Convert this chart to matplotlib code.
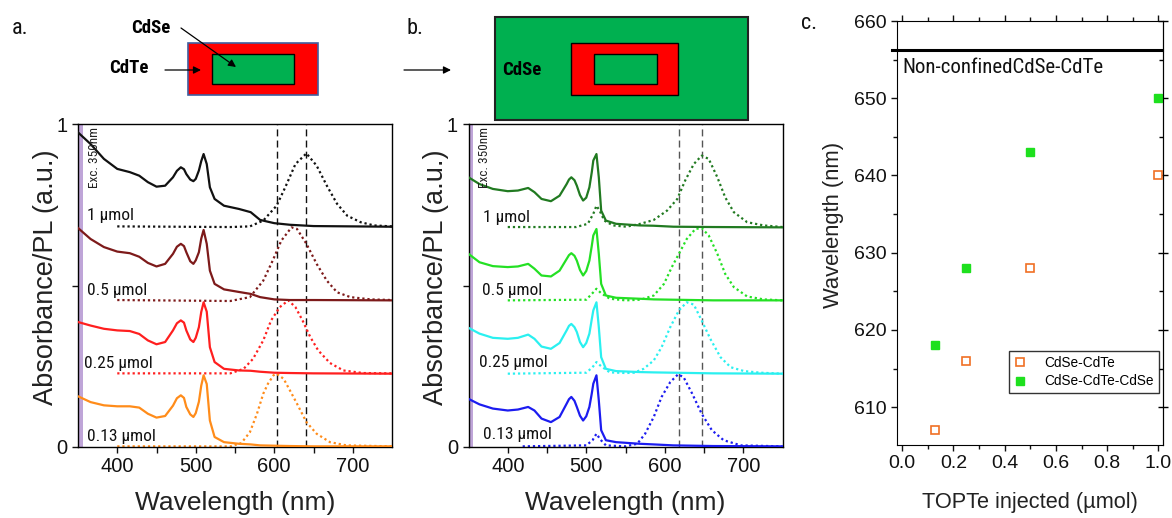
import matplotlib
matplotlib.use('Agg')
import matplotlib.pyplot as plt
from matplotlib import font_manager as fm
from matplotlib.patches import Rectangle
from matplotlib.ticker import MultipleLocator, FixedLocator, FormatStrFormatter

plt.rcParams['font.family'] = ['Liberation Sans', 'DejaVu Sans']

# pick a condensed face for the small annotations if one is installed
_entries = fm.fontManager.ttflist


def _has(name, stretch):
    for f in _entries:
        if f.name == name and (stretch is None or str(f.stretch) in stretch):
            return True
    return False


NARROW_FAMILY, NARROW_STRETCH, NS = 'Liberation Sans', 'normal', 0.86
for _name, _st, _scale in [('Liberation Sans Narrow', None, 1.0),
                           ('Roboto Condensed', None, 1.0),
                           ('Open Sans Condensed', None, 1.0),
                           ('DejaVu Sans', ('condensed', 'semi-condensed', '75', '87.5'), 0.95),
                           ('Noto Sans', ('condensed', 'semi-condensed', 'extra-condensed'), 1.0)]:
    if _has(_name, _st):
        NARROW_FAMILY = _name
        NARROW_STRETCH = 'condensed' if _st else 'normal'
        NS = _scale
        break


def narrow(size, **kw):
    return dict(family=[NARROW_FAMILY, 'DejaVu Sans'], stretch=NARROW_STRETCH, fontsize=size * NS, **kw)


# ---------------- data: panel a (CdSe-CdTe) ----------------
WL_ABS_A = [350, 366, 383, 400, 416, 428, 439, 450, 461, 471, 476, 481, 485, 488, 493, 497, 500, 504,
            507, 510, 514, 518, 524, 536, 555, 570, 582, 600, 620, 650, 750]
ABS_A_1 = [0.974, 0.938, 0.892, 0.861, 0.851, 0.840, 0.820, 0.806, 0.809, 0.835, 0.855, 0.866, 0.860, 0.845,
           0.828, 0.823, 0.830, 0.856, 0.885, 0.907, 0.876, 0.804, 0.768, 0.747, 0.737, 0.727, 0.703, 0.693,
           0.688, 0.684, 0.682]
ABS_A_05 = [0.678, 0.644, 0.619, 0.605, 0.600, 0.589, 0.570, 0.559, 0.567, 0.598, 0.620, 0.629, 0.622, 0.603,
            0.575, 0.567, 0.578, 0.603, 0.645, 0.672, 0.629, 0.546, 0.505, 0.488, 0.480, 0.474, 0.464, 0.457,
            0.455, 0.455, 0.454]
ABS_A_025 = [0.387, 0.376, 0.366, 0.361, 0.359, 0.350, 0.330, 0.318, 0.325, 0.361, 0.383, 0.392, 0.385, 0.361,
             0.333, 0.325, 0.338, 0.371, 0.418, 0.448, 0.419, 0.309, 0.263, 0.242, 0.237, 0.236, 0.233, 0.230,
             0.229, 0.228, 0.227]
ABS_A_013 = [0.157, 0.139, 0.129, 0.126, 0.126, 0.122, 0.103, 0.091, 0.096, 0.128, 0.151, 0.160, 0.152, 0.124,
             0.101, 0.093, 0.105, 0.140, 0.190, 0.222, 0.195, 0.082, 0.031, 0.015, 0.010, 0.008, 0.005, 0.004,
             0.003, 0.002, 0.002]

PL_A_1_WL = [400, 544, 569, 586, 603, 614, 627, 641, 654, 667, 680, 693, 710, 727, 750]
PL_A_1 = [0.683, 0.681, 0.683, 0.701, 0.747, 0.804, 0.876, 0.909, 0.871, 0.809, 0.753, 0.716, 0.696, 0.686, 0.683]
PL_A_05_WL = [400, 544, 569, 586, 598, 609, 622, 629, 641, 654, 667, 680, 697, 723, 750]
PL_A_05 = [0.455, 0.452, 0.464, 0.515, 0.577, 0.639, 0.680, 0.675, 0.629, 0.567, 0.515, 0.479, 0.464, 0.457, 0.455]
PL_A_025_WL = [400, 544, 561, 573, 586, 596, 607, 618, 627, 636, 646, 656, 671, 688, 713, 750]
PL_A_025 = [0.228, 0.228, 0.242, 0.273, 0.330, 0.392, 0.433, 0.454, 0.433, 0.392, 0.340, 0.299, 0.260, 0.237, 0.229, 0.228]
PL_A_013_WL = [400, 544, 558, 569, 578, 586, 592, 599, 603, 612, 620, 629, 641, 654, 671, 692, 750]
PL_A_013 = [0.002, 0.002, 0.012, 0.046, 0.103, 0.165, 0.196, 0.222, 0.227, 0.211, 0.175, 0.134, 0.077, 0.041,
            0.015, 0.005, 0.002]
DASH_A = [603, 641]

# ---------------- data: panel b (CdSe-CdTe-CdSe) ----------------
WL_ABS_B = [350, 364, 381, 400, 413, 426, 434, 443, 455, 466, 475, 478, 481, 485, 488, 492, 496, 500,
            504, 507, 509, 513, 516, 519, 525, 538, 568, 586, 611, 662, 750]
ABS_B_1 = [0.835, 0.814, 0.799, 0.792, 0.794, 0.802, 0.789, 0.768, 0.761, 0.778, 0.814, 0.828, 0.835, 0.826,
           0.809, 0.780, 0.763, 0.772, 0.804, 0.850, 0.887, 0.907, 0.835, 0.732, 0.701, 0.691, 0.686, 0.685,
           0.682, 0.681, 0.680]
ABS_B_05 = [0.598, 0.572, 0.560, 0.557, 0.559, 0.567, 0.552, 0.531, 0.528, 0.546, 0.582, 0.594, 0.600, 0.592,
            0.577, 0.548, 0.531, 0.545, 0.577, 0.622, 0.655, 0.675, 0.598, 0.505, 0.469, 0.462, 0.459, 0.457,
            0.456, 0.454, 0.454]
ABS_B_025 = [0.369, 0.351, 0.338, 0.335, 0.338, 0.348, 0.335, 0.311, 0.304, 0.322, 0.361, 0.375, 0.381, 0.371,
             0.356, 0.325, 0.309, 0.322, 0.351, 0.395, 0.423, 0.448, 0.371, 0.278, 0.242, 0.235, 0.232, 0.231,
             0.230, 0.228, 0.227]
ABS_B_013 = [0.149, 0.132, 0.119, 0.113, 0.116, 0.124, 0.113, 0.088, 0.077, 0.093, 0.134, 0.148, 0.155, 0.143,
             0.124, 0.097, 0.082, 0.095, 0.124, 0.165, 0.196, 0.222, 0.144, 0.052, 0.021, 0.015, 0.010, 0.008,
             0.005, 0.003, 0.002]

PL_B_1_WL = [400, 487, 502, 509, 513, 517, 523, 534, 551, 569, 586, 603, 616, 626, 637, 647, 656, 667, 677,
             688, 705, 726, 750]
PL_B_1 = [0.681, 0.681, 0.691, 0.722, 0.747, 0.732, 0.701, 0.686, 0.682, 0.691, 0.703, 0.732, 0.768, 0.825,
          0.876, 0.902, 0.892, 0.835, 0.773, 0.727, 0.696, 0.686, 0.681]
PL_B_05_WL = [400, 500, 509, 513, 519, 530, 550, 569, 586, 599, 609, 618, 628, 639, 647, 656, 667, 677, 688,
              705, 726, 750]
PL_B_05 = [0.454, 0.456, 0.479, 0.490, 0.476, 0.459, 0.454, 0.456, 0.469, 0.505, 0.557, 0.598, 0.644, 0.675,
           0.678, 0.655, 0.598, 0.536, 0.495, 0.466, 0.457, 0.454]
PL_B_025_WL = [400, 500, 508, 513, 519, 530, 550, 561, 573, 586, 596, 607, 618, 628, 637, 647, 658, 671, 684,
               701, 722, 750]
PL_B_025 = [0.227, 0.230, 0.247, 0.263, 0.250, 0.231, 0.229, 0.230, 0.242, 0.268, 0.309, 0.371, 0.423, 0.448,
            0.441, 0.392, 0.335, 0.278, 0.247, 0.235, 0.230, 0.227]
PL_B_013_WL = [419, 500, 508, 513, 518, 525, 550, 565, 575, 586, 596, 607, 617, 624, 635, 647, 660, 675, 697, 750]
PL_B_013 = [0.002, 0.005, 0.021, 0.041, 0.023, 0.005, 0.002, 0.010, 0.041, 0.093, 0.155, 0.201, 0.225, 0.216,
            0.165, 0.103, 0.052, 0.021, 0.005, 0.002]
DASH_B = [618, 648]

AMOUNT_LABELS = ['1 µmol', '0.5 µmol', '0.25 µmol', '0.13 µmol']
COLORS_A = ['#111111', '#7d1a1a', '#ff1f1f', '#ff8c1a']
COLORS_B = ['#217a21', '#24e024', '#2af0f0', '#1c1cf0']

# ---------------- data: panel c ----------------
TOPTE = [0.13, 0.25, 0.5, 1.0]
PEAK_CDSE_CDTE = [607, 616, 628, 640]
PEAK_CDSE_CDTE_CDSE = [618, 628, 643, 650]
NON_CONFINED = 656.3

# ---------------- figure ----------------
W, H = 1172, 518
fig = plt.figure(figsize=(W / 100, H / 100), dpi=100)


def frac(l, t, r, b):
    return [l / W, 1 - b / H, (r - l) / W, (b - t) / H]


ov = fig.add_axes([0, 0, 1, 1], zorder=-5)
ov.set_xlim(0, W)
ov.set_ylim(H, 0)
ov.axis('off')

axA = fig.add_axes(frac(78, 124, 392, 447))
axB = fig.add_axes(frac(468.5, 124, 782.5, 447))
axC = fig.add_axes(frac(897, 21, 1163, 445))


def spectra(ax, wl_abs, abs_list, pl_list, colors, dashes, dash_color, label_pos, lab_x):
    ax.axvspan(350, 356, color='#bfa5d8', lw=0, zorder=0)
    for y, c in zip(abs_list, colors):
        ax.plot(wl_abs, y, color=c, lw=1.6, zorder=3, solid_joinstyle='round')
    for (wl, y), c in zip(pl_list, colors):
        ax.plot(wl, y, color=c, lw=1.6, ls=(0, (1, 1.3)), zorder=2)
    for d in dashes:
        ax.axvline(d, color=dash_color, lw=1.0, ls=(0, (5, 3)), zorder=1)
    for lab, yy, xx in zip(AMOUNT_LABELS, label_pos, lab_x):
        ax.text(xx, yy, lab, color='#111111', ha='left', va='center', **narrow(12.5))
    ax.text(371, 0.99, 'Exc. 350nm', rotation=90, ha='center', va='top', color='#222222', **narrow(9.5))
    ax.set_xlim(350, 750)
    ax.set_ylim(0, 1)
    ax.set_xticks([400, 500, 600, 700])
    ax.xaxis.set_minor_locator(FixedLocator([450, 550, 650]))
    ax.set_yticks([0, 0.5, 1])
    ax.set_yticklabels(['0', '', '1'])
    ax.tick_params(which='both', direction='out', length=4, width=1, labelsize=14.5, colors='#111111')
    ax.set_xlabel('Wavelength (nm)', fontsize=19, color='#222222')
    ax.set_ylabel('Absorbance/PL (a.u.)', fontsize=19.5, color='#222222')
    ax.xaxis.set_label_coords(0.5, -0.135)
    for s in ax.spines.values():
        s.set_linewidth(1.0)


spectra(axA, WL_ABS_A, [ABS_A_1, ABS_A_05, ABS_A_025, ABS_A_013],
        [(PL_A_1_WL, PL_A_1), (PL_A_05_WL, PL_A_05), (PL_A_025_WL, PL_A_025), (PL_A_013_WL, PL_A_013)],
        COLORS_A, DASH_A, '#111111', [0.718, 0.486, 0.26, 0.031], [362, 361, 358, 361])
axA.yaxis.set_label_coords(-0.062, 0.525)

spectra(axB, WL_ABS_B, [ABS_B_1, ABS_B_05, ABS_B_025, ABS_B_013],
        [(PL_B_1_WL, PL_B_1), (PL_B_05_WL, PL_B_05), (PL_B_025_WL, PL_B_025), (PL_B_013_WL, PL_B_013)],
        COLORS_B, DASH_B, '#555555', [0.712, 0.486, 0.263, 0.04], [368, 367, 364, 368])
axB.yaxis.set_label_coords(-0.062, 0.525)

# ---------------- panel c ----------------
axC.plot(TOPTE, PEAK_CDSE_CDTE, ls='none', marker='s', ms=5.5, mfc='white', mec='#f07024',
         mew=1.2, label='CdSe-CdTe')
axC.plot(TOPTE, PEAK_CDSE_CDTE_CDSE, ls='none', marker='s', ms=5.5, mfc='#1ee01e', mec='#1ee01e',
         mew=1.0, label='CdSe-CdTe-CdSe')
axC.plot([-0.041, 1.016], [NON_CONFINED, NON_CONFINED], color='black', lw=2.2, clip_on=False)
axC.text(0.0, 654.0, 'Non-confinedCdSe-CdTe', va='center', ha='left', color='#111111', **narrow(15))
axC.set_xlim(-0.02, 1.018)
axC.set_ylim(605.1, 660)
axC.xaxis.set_major_locator(MultipleLocator(0.2))
axC.xaxis.set_minor_locator(MultipleLocator(0.1))
axC.yaxis.set_major_locator(MultipleLocator(10))
axC.yaxis.set_minor_locator(MultipleLocator(5))
axC.xaxis.set_major_formatter(FormatStrFormatter('%.1f'))
axC.tick_params(which='both', direction='out', top=True, right=False, width=1, labelsize=14,
                colors='#111111')
axC.tick_params(which='major', length=4)
axC.tick_params(which='minor', length=3)
axR = axC.secondary_yaxis('right')
axR.yaxis.set_major_locator(MultipleLocator(10))
axR.yaxis.set_minor_locator(MultipleLocator(5))
axR.tick_params(which='major', direction='inout', length=7, width=1, labelright=False)
axR.tick_params(which='minor', direction='in', length=3, width=1)
axC.set_xlabel('TOPTe injected (µmol)', fontsize=15.7, color='#222222')
axC.set_ylabel('Wavelength (nm)', fontsize=15.8, color='#222222')
axC.xaxis.set_label_coords(0.5, -0.11)
axC.yaxis.set_label_coords(-0.2, 0.519)
leg = axC.legend(loc='upper right', bbox_to_anchor=(0.985, 0.222), frameon=True, fancybox=False,
                 edgecolor='black', fontsize=9.8, handlelength=1.0, handletextpad=1.3,
                 borderpad=0.35, labelspacing=0.35, borderaxespad=0, numpoints=1)
leg.get_frame().set_linewidth(1.0)

# ---------------- schematics & labels ----------------
ov.add_patch(Rectangle((188, 42.5), 130, 52, facecolor='#ff0000', edgecolor='#3f5fa0', lw=1.2))
ov.add_patch(Rectangle((212, 53.5), 81.5, 30, facecolor='#00b050', edgecolor='black', lw=1.0))
ov.add_patch(Rectangle((494.5, 16.5), 253.5, 103.5, facecolor='#00b050', edgecolor='#222222', lw=1.5))
ov.add_patch(Rectangle((571, 42.5), 107, 52, facecolor='#ff0000', edgecolor='black', lw=1.0))
ov.add_patch(Rectangle((594, 53.5), 63, 30, facecolor='#00b050', edgecolor='black', lw=1.0))

bold = dict(fontweight='bold', color='black', va='center', ha='center')
ov.text(151, 28, 'CdSe', **bold, **narrow(13.5))
ov.text(129, 68, 'CdTe', **bold, **narrow(13.5))
ov.text(522, 70, 'CdSe', **bold, **narrow(13.5))

arr = dict(arrowstyle='-|>', lw=0.9, color='black', mutation_scale=11, shrinkA=0, shrinkB=0)
ov.annotate('', xy=(201, 70), xytext=(165, 70), arrowprops=arr)
ov.annotate('', xy=(236, 67), xytext=(181, 28), arrowprops=arr)
ov.annotate('', xy=(451, 70), xytext=(404, 70), arrowprops=arr)

pl = dict(color='#111111', ha='left', va='baseline')
ov.text(12, 33.5, 'a.', **pl, **narrow(16))
ov.text(407, 34.5, 'b.', **pl, **narrow(16))
ov.text(801, 29, 'c.', **pl, **narrow(16))

fig.savefig('out.png', dpi=100)
